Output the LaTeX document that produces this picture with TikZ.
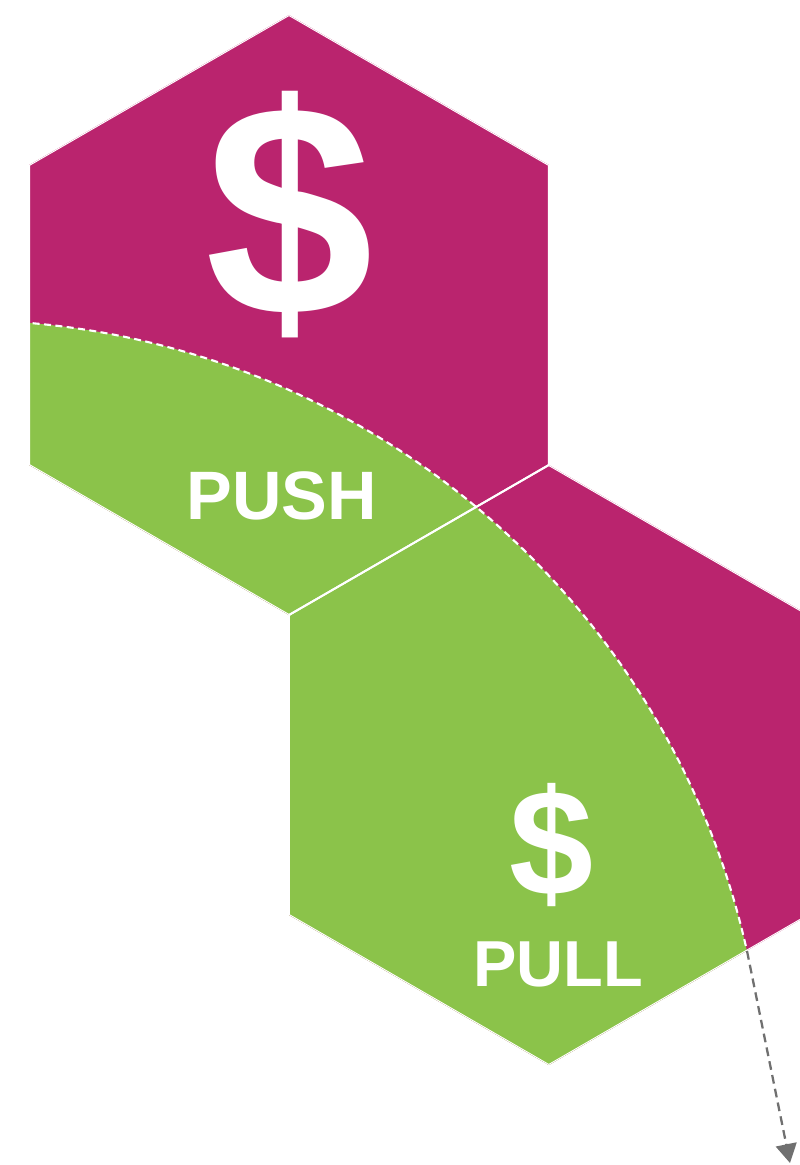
\documentclass[tikz,border=0pt]{standalone}
\usepackage{fontspec}
\setmainfont{Liberation Sans}
\usetikzlibrary{arrows.meta}
\definecolor{pushpink}{RGB}{186,36,110}
\definecolor{pullgreen}{RGB}{139,195,74}
\definecolor{arrowgray}{RGB}{112,112,112}
\tikzset{
  hexedge/.style={draw=white, line width=1.1pt},
  word/.style={text=white, inner sep=0pt, font=\bfseries},
}
\begin{document}
\begin{tikzpicture}[x=0.02cm, y=-0.02cm]
\useasboundingbox (0,0) rectangle (800,1165);
% the two hexagons
\def\tophex{(289,15) -- (548.8,165) -- (548.8,465) -- (289,615) -- (29.2,465) -- (29.2,165) -- cycle}
\def\lowhex{(548.8,465) -- (808.6,615) -- (808.6,915) -- (548.8,1065) -- (289,915) -- (289,615) -- cycle}
\fill[pushpink] \tophex \lowhex;
\begin{scope}
\clip \tophex \lowhex;
\fill[pullgreen] (-40,1126) circle [radius=806];
\draw[hexedge] \tophex;
\draw[hexedge] \lowhex;
\draw[white, line width=1.2pt, dash pattern=on 4pt off 2.5pt] (-40,1126) circle [radius=806];
\end{scope}
\coordinate (arcend) at (747,951);
\coordinate (arrowtip) at (790,1163);
\draw[arrowgray, line width=1.3pt, dash pattern=on 5pt off 3pt,
  -{Triangle[width=0.42cm, length=0.38cm]}] (arcend) -- (arrowtip);
% labels
\node (dollarTop) [word, font=\bfseries\fontsize{172}{172}\selectfont] at (290,215) {\$};
\node (push) [word, font=\bfseries\fontsize{39}{39}\selectfont] at (282,496) {PUSH};
\node (dollarLow) [word, font=\bfseries\fontsize{86}{86}\selectfont] at (552,845) {\$};
\node (pull) [word, font=\bfseries\fontsize{37}{37}\selectfont] at (558,964) {PULL};
\end{tikzpicture}
\end{document}
